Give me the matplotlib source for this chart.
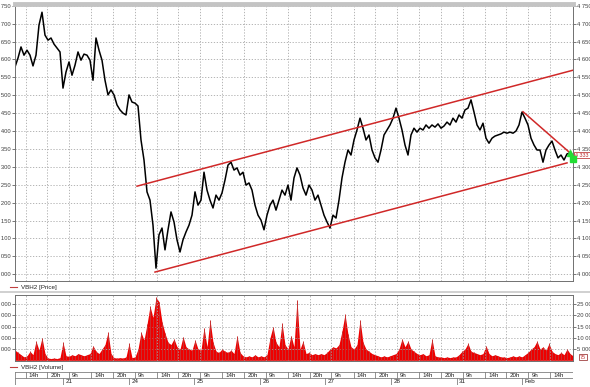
import numpy as np
import matplotlib
matplotlib.use('Agg')
import matplotlib.pyplot as plt
from matplotlib.lines import Line2D
from matplotlib.ticker import FuncFormatter

plt.rcParams['font.family'] = ['Liberation Sans', 'DejaVu Sans']

# session days (index 0 = the 20th) and intraday hour marks
day_labels = ['', '21', '24', '25', '26', '27', '28', '31', 'Feb']
hour_labels = ['9h', '14h', '20h']
hour_pos = [0.09, 0.43, 0.76]
t_start, t_end = 0.268, 8.774

price = [4579, 4604, 4635, 4612, 4626, 4612, 4582, 4612, 4696, 4732, 4668, 4654, 4660, 4643, 4632, 4621,
         4520, 4565, 4593, 4556, 4584, 4621, 4598, 4615, 4612, 4598, 4542, 4660, 4626, 4598, 4542, 4501,
         4515, 4501, 4473, 4459, 4450, 4445, 4501, 4481, 4478, 4470, 4375, 4319, 4230, 4207, 4137, 4017,
         4110, 4129, 4068, 4124, 4174, 4146, 4096, 4062, 4096, 4118, 4137, 4165, 4230, 4193, 4207, 4285,
         4235, 4207, 4185, 4221, 4207, 4227, 4263, 4305, 4313, 4291, 4297, 4277, 4285, 4249, 4255, 4235,
         4193, 4165, 4151, 4124, 4165, 4193, 4207, 4179, 4207, 4235, 4221, 4249, 4207, 4269, 4297, 4277,
         4241, 4221, 4249, 4235, 4207, 4221, 4193, 4165, 4146, 4129, 4165, 4157, 4207, 4269, 4313, 4347,
         4333, 4375, 4403, 4436, 4408, 4375, 4389, 4347, 4325, 4313, 4347, 4389, 4403, 4417, 4436, 4464,
         4436, 4403, 4361, 4333, 4389, 4408, 4397, 4408, 4403, 4417, 4408, 4417, 4411, 4420, 4408, 4414,
         4425, 4417, 4436, 4425, 4445, 4436, 4459, 4464, 4487, 4453, 4417, 4403, 4422, 4380, 4366, 4380,
         4386, 4389, 4392, 4397, 4394, 4397, 4394, 4400, 4417, 4453, 4436, 4417, 4380, 4361, 4347, 4347,
         4313, 4347, 4361, 4372, 4347, 4325, 4333, 4319, 4336, 4339, 4333]

volume = [4500, 3500, 2500, 1500, 2000, 4000, 2500, 8500, 4500, 10000, 3000, 1000, 800, 1000, 800, 1200,
          8000, 2000, 1800, 2500, 2000, 3000, 2500, 2000, 2500, 3000, 6500, 4000, 3000, 5000, 7000, 12500,
          3000, 1200, 1000, 1200, 1000, 1500, 7500, 1200, 1500, 5000, 12500, 9000, 16000, 24000, 19000, 28000,
          26000, 17000, 12000, 8000, 7000, 9500, 6000, 5000, 10500, 6000, 5000, 4500, 9000, 5000, 4500, 14500,
          6000, 18000, 8000, 4000, 3500, 5000, 4000, 3500, 4500, 3000, 11000, 3500, 2000, 1500, 2000, 1500,
          2500, 1500, 2000, 1500, 2500, 10000, 15000, 8000, 6000, 16500, 7000, 5000, 11000, 6000, 27000, 5000,
          8500, 3000, 3500, 2500, 3000, 2500, 3000, 2500, 3500, 5000, 6000, 5500, 7000, 13000, 20500, 11500,
          6000, 5000, 7000, 18000, 8000, 5000, 4000, 3000, 2500, 2000, 1500, 2000, 1500, 2000, 2500, 3000,
          5000, 9500, 6000, 8500, 5000, 4000, 3000, 2500, 3000, 2000, 2500, 9500, 2000, 1500, 1500, 1200,
          1500, 1200, 1500, 1500, 2500, 4000, 5000, 7500, 4000, 3500, 3000, 2500, 3000, 6500, 3000, 2000,
          2500, 2000, 1500, 1500, 1200, 1500, 2000, 1500, 2000, 1500, 2500, 3500, 5000, 6000, 8500, 5000,
          6000, 4500, 7500, 4000, 3000, 2500, 3500, 2500, 5000, 3000, 2000]

# trend lines: (time, price) end points
upper_line = ([2.128, 8.774], [4246, 4570])
lower_line = ([2.402, 8.683], [4006, 4311])
down_line = ([8.012, 8.729], [4454, 4339])

t_price = np.linspace(t_start, t_end, len(price))
t_vol = np.linspace(t_start, t_end, len(volume))

hour_ticks = [d + h for d in range(len(day_labels)) for h in hour_pos]
hour_ticks = [h for h in hour_ticks if t_start < h < t_end - 0.15]

fs = 4.2
tick_col = '#404040'
grid_kw = dict(color='#a8a8a8', ls=(0, (1.5, 2)), lw=0.6)
space_fmt = FuncFormatter(lambda v, p: f'{v:,.0f}'.replace(',', ' '))

fig = plt.figure(figsize=(5.9, 3.87), dpi=100)
W, H = 590, 387

# price panel
ax = fig.add_axes([15 / W, 1 - 281 / H, 558 / W, 277 / H])
ax.plot(t_price, price, color='black', lw=1.1)
ax.plot(*upper_line, color='#d02828', lw=1.1)
ax.plot(*lower_line, color='#d02828', lw=1.1)
ax.plot(*down_line, color='#d02828', lw=1.1)
ax.plot(t_price[-1], price[-1] - 12, marker='s', ms=4.5, color='#22dd33', clip_on=False, zorder=5)
ax.plot(t_price[-1] - 0.04, price[-1] + 5, marker='^', ms=4, color='#22dd33', clip_on=False, zorder=5)
ax.set_xlim(t_start, t_end)
ax.set_ylim(3981, 4755)
ax.set_yticks(np.arange(4000, 4751, 50))
ax.yaxis.set_major_formatter(space_fmt)
ax.set_xticks(hour_ticks)
ax.set_xticklabels([])
ax.tick_params(axis='x', length=0)
ax.tick_params(axis='y', left=True, right=True, labelleft=True, labelright=True,
               direction='out', length=2, width=0.5, pad=0.8, labelsize=fs, colors=tick_col)
ax.grid(True, **grid_kw)
for s in ax.spines.values():
    s.set_color('#707070')
    s.set_linewidth(0.7)
ax.spines['top'].set_color('#c4c4c4')
ax.spines['top'].set_linewidth(3.5)
ax.text(1.004, (price[-1] - 3981) / (4755 - 3981), f'{price[-1]:,}'.replace(',', ' '),
        transform=ax.transAxes, fontsize=fs - 0.3, color='#c03030', va='center', ha='left',
        bbox=dict(boxstyle='square,pad=0.15', fc='white', ec='#c04040', lw=0.6))

# volume panel
axv = fig.add_axes([15 / W, 1 - 361 / H, 558 / W, 66 / H])
axv.fill_between(t_vol, 0, volume, color='#ee0000', lw=0)
axv.vlines(t_vol, 0, volume, color='#c83030', lw=0.7)
axv.set_xlim(t_start, t_end)
axv.set_ylim(-300, 29000)
axv.set_yticks(np.arange(5000, 25001, 5000))
axv.yaxis.set_major_formatter(space_fmt)
axv.set_xticks(hour_ticks)
axv.set_xticklabels([])
axv.tick_params(axis='x', length=0)
axv.tick_params(axis='y', left=True, right=True, labelleft=True, labelright=True,
                direction='out', length=2, width=0.5, pad=0.8, labelsize=fs, colors=tick_col)
axv.grid(True, **grid_kw)
for s in axv.spines.values():
    s.set_color('#707070')
    s.set_linewidth(0.7)
axv.text(1.012, 0.02, '75', transform=axv.transAxes, fontsize=fs - 0.3, color='#c03030',
         va='bottom', ha='left', bbox=dict(boxstyle='square,pad=0.15', fc='white', ec='#a04040', lw=0.6))

# legends and separators
fig.add_artist(Line2D([0, 1], [1 - 291.5 / H] * 2, color='#c8c8c8', lw=1.2))
for ytxt, label in [(287, 'VBH2 [Price]'), (367, 'VBH2 [Volume]')]:
    fig.add_artist(Line2D([10 / W, 17 / W], [1 - ytxt / H] * 2, color='#c04040', lw=0.8))
    fig.text(21 / W, 1 - ytxt / H, label, fontsize=fs + 0.3, color='#202020', va='center')

# time axis with hour and day rows
axt = fig.add_axes([15 / W, 1 - 384.5 / H, 558 / W, 12.5 / H])
axt.set_xlim(t_start, t_end)
axt.set_ylim(0, 2)
axt.axis('off')
line_col = '#808080'
for yy in [0, 1, 2]:
    axt.plot([t_start, t_end], [yy, yy], color=line_col, lw=0.6)
axt.plot([t_start, t_start], [0, 2], color=line_col, lw=0.6)
axt.plot([t_end, t_end], [0, 2], color=line_col, lw=0.6)
for x in hour_ticks:
    lab = hour_labels[hour_pos.index(round(x - int(x), 2))]
    axt.plot([x, x], [1, 2], color=line_col, lw=0.6)
    axt.text(x + 0.05, 1.5, lab, fontsize=fs + 0.3, color='#202020', va='center', ha='left')
for d in range(len(day_labels)):
    if t_start < d < t_end:
        axt.plot([d, d], [0, 1], color=line_col, lw=0.6)
        axt.text(d + 0.04, 0.5, day_labels[d], fontsize=fs + 0.3, color='#202020', va='center', ha='left')

fig.savefig('out.png', dpi=100)
